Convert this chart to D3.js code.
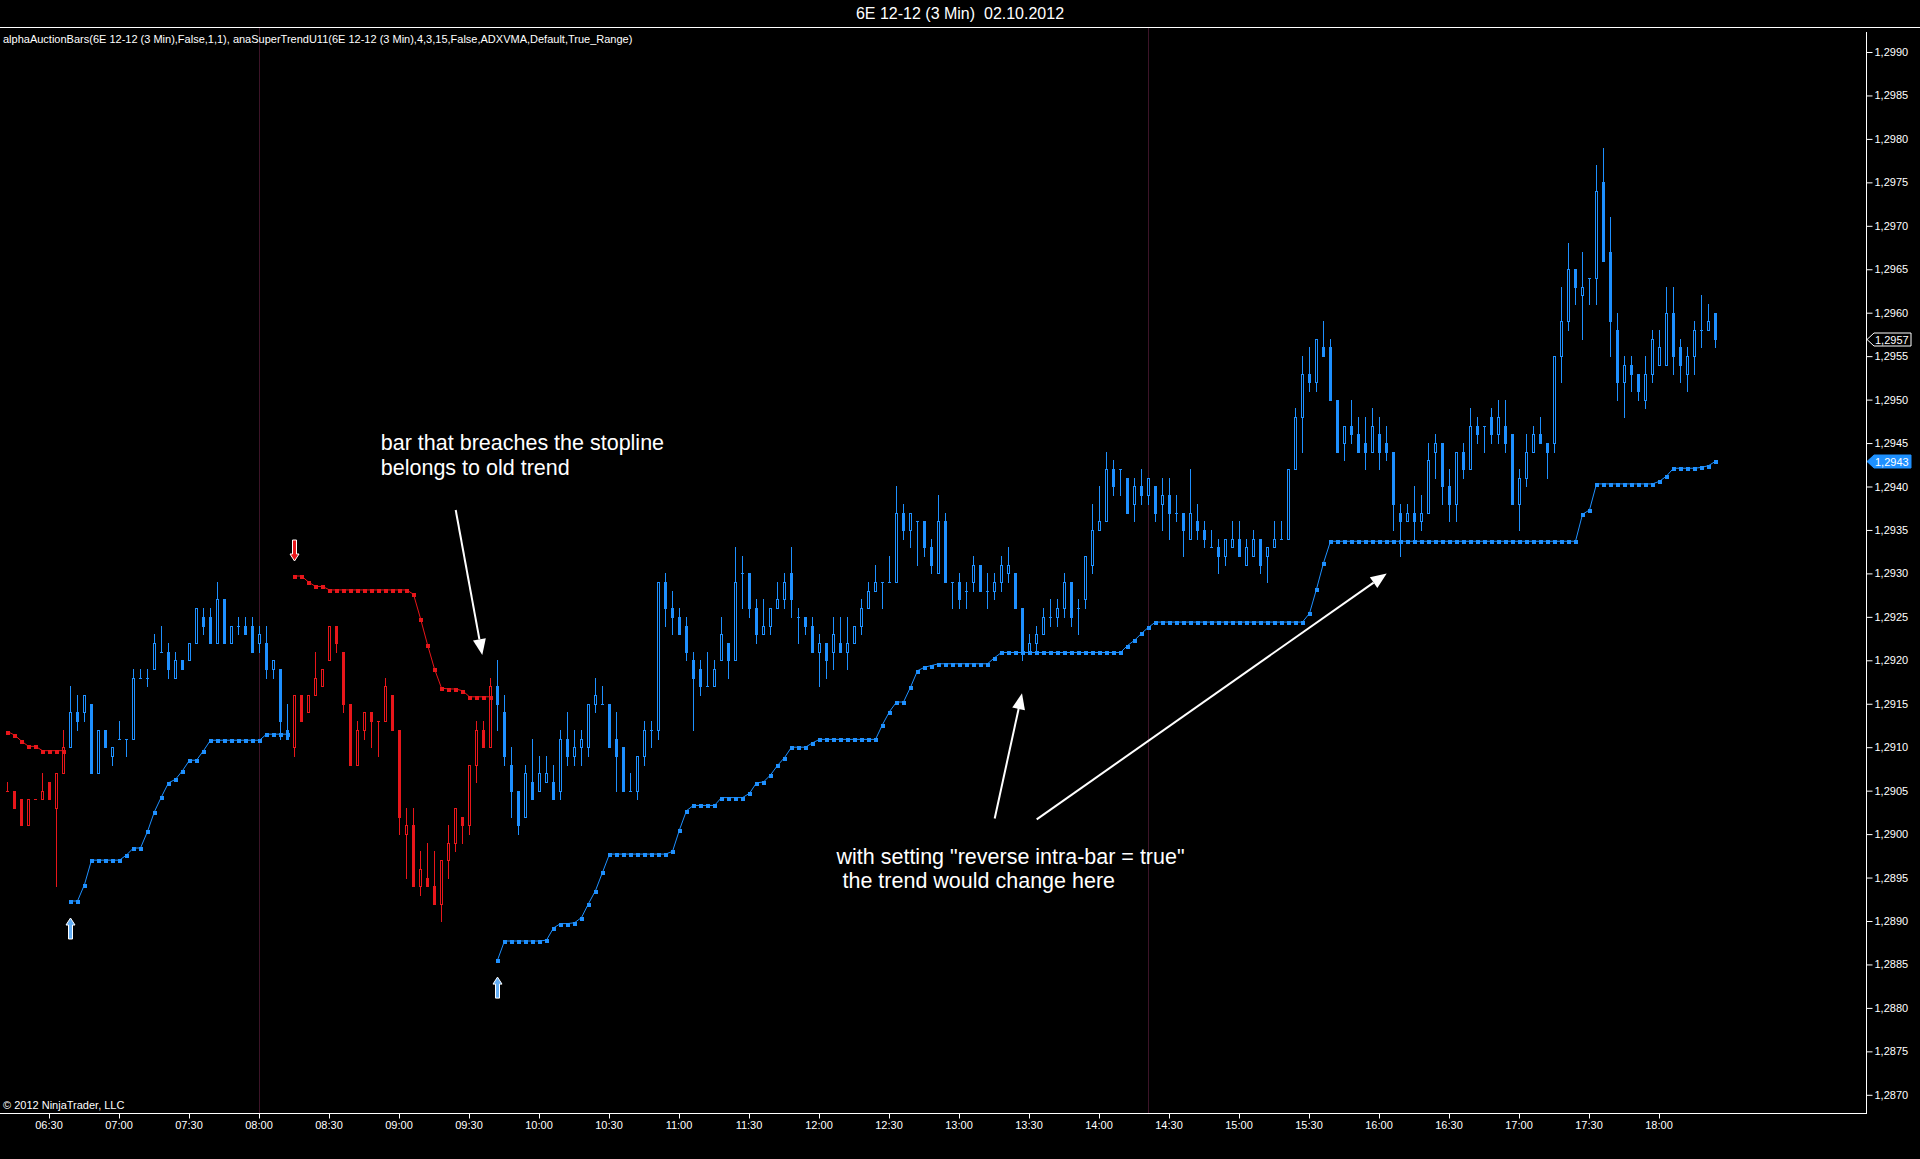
<!DOCTYPE html>
<meta charset="utf-8">
<style>
body { margin: 0; background: #000; }
svg { display: block; background: #000; }
text { font-family: "Liberation Sans", Arial, sans-serif; fill: #fff; white-space: pre; }
.axis text { font-size: 11px; fill: #fff; }
.axis line { stroke: #fff; }
.axis path { display: none; }
</style>
<svg width="1920" height="1159"></svg>
<script src="https://cdn.jsdelivr.net/npm/d3@7"></script>
<script>
var chartTitle = "6E 12-12 (3 Min)  02.10.2012";
var indicatorLabel = "alphaAuctionBars(6E 12-12 (3 Min),False,1,1), anaSuperTrendU11(6E 12-12 (3 Min),4,3,15,False,ADXVMA,Default,True_Range)";
var copyright = "\u00a9 2012 NinjaTrader, LLC";

var firstBar = "06:12";
var barMinutes = 3;

var openP = [
1.2905,1.2905,1.2904,1.2901,1.2904,1.2904,1.2906,1.2903,1.2907,1.2910,
1.2914,1.2914,1.2915,1.2907,1.2912,1.2909,1.2911,1.2911,1.2911,1.2918,
1.2918,1.2919,1.2921,1.2921,1.2918,1.2920,1.2920,1.2922,1.2925,1.2925,
1.2922,1.2927,1.2922,1.2924,1.2924,1.2924,1.2922,1.2922,1.2919,1.2919,
1.2912,1.2910,1.2916,1.2914,1.2916,1.2917,1.2920,1.2924,1.2921,1.2915,
1.2908,1.2912,1.2914,1.2913,1.2913,1.2916,1.2912,1.2900,1.2901,1.2894,
1.2895,1.2894,1.2892,1.2897,1.2899,1.2902,1.2901,1.2908,1.2912,1.2910,
1.2917,1.2914,1.2908,1.2905,1.2902,1.2906,1.2905,1.2906,1.2906,1.2905,
1.2911,1.2909,1.2910,1.2910,1.2915,1.2915,1.2915,1.2911,1.2910,1.2905,
1.2905,1.2909,1.2912,1.2912,1.2929,1.2926,1.2925,1.2924,1.2920,1.2919,
1.2917,1.2917,1.2920,1.2922,1.2920,1.2930,1.2930,1.2926,1.2923,1.2924,
1.2926,1.2927,1.2930,1.2925,1.2925,1.2924,1.2921,1.2922,1.2921,1.2922,
1.2921,1.2922,1.2924,1.2926,1.2928,1.2929,1.2929,1.2929,1.2937,1.2935,
1.2936,1.2936,1.2933,1.2930,1.2936,1.2929,1.2929,1.2928,1.2929,1.2931,
1.2928,1.2928,1.2929,1.2930,1.2930,1.2926,1.2921,1.2922,1.2923,1.2925,
1.2925,1.2926,1.2929,1.2926,1.2927,1.2931,1.2935,1.2936,1.2942,1.2942,
1.2941,1.2938,1.2940,1.2939,1.2940,1.2938,1.2939,1.2937,1.2937,1.2934,
1.2936,1.2935,1.2933,1.2933,1.2932,1.2933,1.2934,1.2931,1.2932,1.2934,
1.2932,1.2933,1.2934,1.2934,1.2942,1.2948,1.2953,1.2952,1.2956,1.2956,
1.2950,1.2945,1.2947,1.2946,1.2945,1.2944,1.2946,1.2945,1.2944,1.2937,
1.2936,1.2937,1.2936,1.2937,1.2944,1.2945,1.2940,1.2938,1.2944,1.2942,
1.2947,1.2947,1.2948,1.2946,1.2947,1.2946,1.2938,1.2941,1.2944,1.2946,
1.2945,1.2945,1.2955,1.2959,1.2965,1.2962,1.2964,1.2964,1.2975,1.2967,
1.2958,1.2952,1.2954,1.2953,1.2950,1.2953,1.2954,1.2954,1.2960,1.2956,
1.2953,1.2955,1.2958,1.2958,1.2960];

var highP = [
1.2906,1.2905,1.2904,1.2904,1.2904,1.2907,1.2906,1.2907,1.2912,1.2917,
1.2916,1.2916,1.2915,1.2912,1.2912,1.2910,1.2913,1.2911,1.2919,1.2919,
1.2919,1.2923,1.2924,1.2922,1.2921,1.2920,1.2922,1.2926,1.2926,1.2926,
1.2929,1.2927,1.2924,1.2925,1.2925,1.2925,1.2924,1.2924,1.2920,1.2919,
1.2915,1.2916,1.2916,1.2916,1.2921,1.2919,1.2924,1.2924,1.2921,1.2915,
1.2913,1.2914,1.2914,1.2913,1.2918,1.2916,1.2912,1.2903,1.2903,1.2898,
1.2899,1.2898,1.2897,1.2901,1.2903,1.2902,1.2908,1.2913,1.2913,1.2918,
1.2920,1.2916,1.2910,1.2905,1.2908,1.2911,1.2909,1.2909,1.2908,1.2912,
1.2914,1.2912,1.2912,1.2915,1.2918,1.2917,1.2915,1.2914,1.2910,1.2907,
1.2909,1.2913,1.2913,1.2929,1.2930,1.2928,1.2926,1.2925,1.2921,1.2920,
1.2921,1.2920,1.2925,1.2922,1.2933,1.2932,1.2930,1.2927,1.2927,1.2926,
1.2929,1.2930,1.2933,1.2926,1.2925,1.2925,1.2923,1.2922,1.2925,1.2925,
1.2925,1.2924,1.2927,1.2929,1.2931,1.2929,1.2932,1.2940,1.2938,1.2937,
1.2936,1.2936,1.2934,1.2939,1.2937,1.2929,1.2930,1.2929,1.2932,1.2931,
1.2930,1.2930,1.2932,1.2933,1.2930,1.2926,1.2923,1.2924,1.2926,1.2927,
1.2927,1.2930,1.2929,1.2927,1.2932,1.2938,1.2940,1.2944,1.2943,1.2942,
1.2941,1.2941,1.2942,1.2941,1.2940,1.2941,1.2941,1.2939,1.2937,1.2942,
1.2938,1.2936,1.2935,1.2934,1.2934,1.2936,1.2936,1.2934,1.2935,1.2934,
1.2933,1.2936,1.2936,1.2942,1.2949,1.2955,1.2956,1.2957,1.2959,1.2957,
1.2950,1.2947,1.2950,1.2948,1.2948,1.2949,1.2948,1.2947,1.2944,1.2938,
1.2938,1.2940,1.2939,1.2945,1.2946,1.2945,1.2942,1.2944,1.2945,1.2949,
1.2948,1.2947,1.2949,1.2950,1.2950,1.2946,1.2942,1.2946,1.2947,1.2948,
1.2945,1.2955,1.2963,1.2968,1.2965,1.2967,1.2964,1.2977,1.2979,1.2971,
1.2960,1.2955,1.2955,1.2953,1.2955,1.2958,1.2958,1.2963,1.2963,1.2957,
1.2956,1.2959,1.2962,1.2961,1.2960];

var lowP = [
1.2905,1.2903,1.2901,1.2901,1.2904,1.2904,1.2904,1.2894,1.2907,1.2910,
1.2912,1.2913,1.2907,1.2907,1.2910,1.2908,1.2911,1.2909,1.2911,1.2918,
1.2917,1.2919,1.2921,1.2918,1.2918,1.2919,1.2920,1.2922,1.2923,1.2922,
1.2922,1.2922,1.2922,1.2923,1.2923,1.2921,1.2921,1.2918,1.2918,1.2911,
1.2911,1.2909,1.2913,1.2914,1.2916,1.2917,1.2920,1.2921,1.2914,1.2908,
1.2908,1.2911,1.2910,1.2909,1.2913,1.2912,1.2900,1.2895,1.2894,1.2893,
1.2894,1.2892,1.2890,1.2895,1.2898,1.2899,1.2900,1.2906,1.2910,1.2910,
1.2912,1.2908,1.2902,1.2900,1.2902,1.2904,1.2905,1.2906,1.2904,1.2904,
1.2908,1.2908,1.2908,1.2909,1.2914,1.2915,1.2910,1.2905,1.2905,1.2905,
1.2904,1.2908,1.2910,1.2911,1.2924,1.2923,1.2923,1.2920,1.2912,1.2916,
1.2917,1.2917,1.2920,1.2918,1.2920,1.2926,1.2925,1.2922,1.2923,1.2923,
1.2926,1.2926,1.2925,1.2922,1.2923,1.2921,1.2917,1.2918,1.2919,1.2921,
1.2919,1.2922,1.2923,1.2926,1.2928,1.2926,1.2929,1.2929,1.2934,1.2933,
1.2931,1.2932,1.2930,1.2930,1.2929,1.2926,1.2926,1.2926,1.2928,1.2928,
1.2926,1.2927,1.2928,1.2929,1.2926,1.2920,1.2921,1.2921,1.2923,1.2924,
1.2924,1.2925,1.2924,1.2923,1.2926,1.2930,1.2935,1.2936,1.2939,1.2939,
1.2937,1.2936,1.2938,1.2938,1.2936,1.2935,1.2934,1.2936,1.2932,1.2934,
1.2934,1.2933,1.2933,1.2930,1.2931,1.2933,1.2932,1.2931,1.2932,1.2930,
1.2929,1.2933,1.2934,1.2934,1.2942,1.2944,1.2951,1.2951,1.2955,1.2950,
1.2944,1.2943,1.2945,1.2944,1.2942,1.2944,1.2942,1.2943,1.2935,1.2932,
1.2936,1.2934,1.2935,1.2937,1.2941,1.2938,1.2936,1.2936,1.2941,1.2942,
1.2945,1.2944,1.2945,1.2945,1.2944,1.2938,1.2935,1.2940,1.2944,1.2945,
1.2941,1.2944,1.2952,1.2958,1.2961,1.2957,1.2961,1.2961,1.2966,1.2955,
1.2950,1.2948,1.2951,1.2950,1.2949,1.2952,1.2954,1.2954,1.2953,1.2952,
1.2951,1.2953,1.2956,1.2958,1.2956];

var closeP = [
1.2905,1.2903,1.2901,1.2904,1.2904,1.2905,1.2904,1.2907,1.2910,1.2914,
1.2913,1.2916,1.2907,1.2912,1.2910,1.2910,1.2911,1.2911,1.2918,1.2918,
1.2918,1.2922,1.2921,1.2919,1.2920,1.2919,1.2922,1.2926,1.2924,1.2922,
1.2927,1.2922,1.2924,1.2924,1.2923,1.2921,1.2923,1.2919,1.2920,1.2913,
1.2911,1.2916,1.2913,1.2916,1.2918,1.2919,1.2924,1.2922,1.2915,1.2908,
1.2912,1.2914,1.2913,1.2913,1.2917,1.2912,1.2902,1.2901,1.2894,1.2896,
1.2894,1.2892,1.2897,1.2899,1.2903,1.2901,1.2908,1.2912,1.2910,1.2917,
1.2915,1.2909,1.2905,1.2901,1.2907,1.2904,1.2907,1.2907,1.2904,1.2911,
1.2909,1.2910,1.2911,1.2915,1.2916,1.2915,1.2910,1.2909,1.2905,1.2905,
1.2909,1.2912,1.2912,1.2929,1.2926,1.2925,1.2923,1.2921,1.2918,1.2917,
1.2917,1.2919,1.2923,1.2920,1.2929,1.2930,1.2926,1.2923,1.2924,1.2926,
1.2927,1.2929,1.2927,1.2925,1.2924,1.2921,1.2922,1.2920,1.2923,1.2921,
1.2922,1.2924,1.2926,1.2928,1.2929,1.2929,1.2929,1.2937,1.2935,1.2937,
1.2936,1.2933,1.2931,1.2936,1.2929,1.2929,1.2927,1.2928,1.2931,1.2928,
1.2928,1.2929,1.2931,1.2931,1.2926,1.2921,1.2922,1.2923,1.2925,1.2925,
1.2926,1.2929,1.2925,1.2926,1.2932,1.2935,1.2936,1.2942,1.2940,1.2942,
1.2937,1.2940,1.2939,1.2941,1.2937,1.2939,1.2937,1.2937,1.2935,1.2937,
1.2935,1.2934,1.2933,1.2932,1.2934,1.2934,1.2932,1.2933,1.2934,1.2931,
1.2933,1.2934,1.2934,1.2942,1.2948,1.2953,1.2952,1.2957,1.2955,1.2950,
1.2944,1.2947,1.2946,1.2944,1.2944,1.2947,1.2944,1.2944,1.2938,1.2936,
1.2937,1.2936,1.2937,1.2943,1.2945,1.2940,1.2938,1.2944,1.2942,1.2947,
1.2946,1.2947,1.2946,1.2948,1.2945,1.2938,1.2941,1.2944,1.2946,1.2945,
1.2944,1.2955,1.2959,1.2965,1.2963,1.2963,1.2964,1.2974,1.2966,1.2959,
1.2952,1.2954,1.2953,1.2951,1.2953,1.2957,1.2956,1.2960,1.2955,1.2954,
1.2955,1.2958,1.2958,1.2959,1.2957];

// SuperTrend stop line, one value per bar
var stopLine = [
1.29118,1.29114,1.29107,1.29101,1.29101,1.29096,1.29096,1.29096,1.29096,1.28923,
1.28923,1.28942,1.28970,1.28970,1.28970,1.28970,1.28970,1.28976,1.28984,1.28984,
1.29003,1.29026,1.29043,1.29059,1.29063,1.29073,1.29085,1.29085,1.29096,1.29108,
1.29108,1.29108,1.29108,1.29108,1.29108,1.29108,1.29108,1.29115,1.29115,1.29115,
1.29115,1.29297,1.29297,1.29290,1.29285,1.29285,1.29281,1.29281,1.29281,1.29281,
1.29281,1.29281,1.29281,1.29281,1.29281,1.29281,1.29281,1.29281,1.29276,1.29248,
1.29218,1.29190,1.29168,1.29167,1.29167,1.29165,1.29158,1.29158,1.29158,1.29158,
1.28855,1.28877,1.28877,1.28877,1.28877,1.28877,1.28877,1.28878,1.28892,1.28897,
1.28897,1.28898,1.28904,1.28920,1.28935,1.28956,1.28977,1.28977,1.28977,1.28977,
1.28977,1.28977,1.28977,1.28977,1.28977,1.28980,1.29005,1.29027,1.29033,1.29033,
1.29033,1.29033,1.29042,1.29042,1.29042,1.29042,1.29047,1.29059,1.29060,1.29068,
1.29079,1.29088,1.29100,1.29100,1.29100,1.29105,1.29109,1.29109,1.29109,1.29109,
1.29109,1.29109,1.29109,1.29109,1.29109,1.29126,1.29141,1.29152,1.29152,1.29169,
1.29188,1.29192,1.29194,1.29196,1.29196,1.29196,1.29196,1.29196,1.29196,1.29196,
1.29196,1.29203,1.29209,1.29209,1.29209,1.29209,1.29209,1.29209,1.29209,1.29209,
1.29209,1.29209,1.29209,1.29209,1.29209,1.29209,1.29209,1.29209,1.29209,1.29209,
1.29217,1.29223,1.29231,1.29238,1.29244,1.29244,1.29244,1.29244,1.29244,1.29244,
1.29244,1.29244,1.29244,1.29244,1.29244,1.29244,1.29244,1.29244,1.29244,1.29244,
1.29244,1.29244,1.29244,1.29244,1.29244,1.29244,1.29254,1.29282,1.29312,1.29337,
1.29337,1.29337,1.29337,1.29337,1.29337,1.29337,1.29337,1.29337,1.29337,1.29337,
1.29337,1.29337,1.29337,1.29337,1.29337,1.29337,1.29337,1.29337,1.29337,1.29337,
1.29337,1.29337,1.29337,1.29337,1.29337,1.29337,1.29337,1.29337,1.29337,1.29337,
1.29337,1.29337,1.29337,1.29337,1.29337,1.29368,1.29373,1.29403,1.29403,1.29403,
1.29403,1.29403,1.29403,1.29403,1.29403,1.29403,1.29406,1.29412,1.29421,1.29421,
1.29421,1.29421,1.29422,1.29424,1.29429];

// bars (first, last) while the trend is down
var downTrend = [["06:12", "06:36"], ["08:15", "09:39"]];
var sessionBreaks = ["08:00", "14:21"];

var timeLabels = ["06:30","07:00","07:30","08:00","08:30","09:00","09:30","10:00","10:30","11:00",
  "11:30","12:00","12:30","13:00","13:30","14:00","14:30","15:00","15:30","16:00","16:30","17:00","17:30","18:00"];
var priceTicks = [1.2870,1.2875,1.2880,1.2885,1.2890,1.2895,1.2900,1.2905,1.2910,1.2915,1.2920,1.2925,
  1.2930,1.2935,1.2940,1.2945,1.2950,1.2955,1.2960,1.2965,1.2970,1.2975,1.2980,1.2985,1.2990];

// hand drawn notes, placed by bar number and price
var noteTexts = [
  {bar: 53.4, price: 1.29442, text: "bar that breaches the stopline"},
  {bar: 53.4, price: 1.29413, text: "belongs to old trend"},
  {bar: 118.5, price: 1.28966, text: "with setting \"reverse intra-bar = true\""},
  {bar: 118.5, price: 1.28938, text: " the trend would change here"}
];
var noteArrows = [
  {from: [64.1, 1.29373], to: [67.9, 1.29206]},
  {from: [141.1, 1.29018], to: [145.0, 1.29162]},
  {from: [147.1, 1.29017], to: [197.1, 1.29300]}
];

var upColor = "#1e90ff", downColor = "#e8161a", sessionColor = "#3c1428";

var svg = d3.select("svg");
var plotTop = 27, plotBottom = 1113, axisX = 1866;

var parseHM = d3.timeParse("%H:%M"), fmtHM = d3.timeFormat("%H:%M");
var times = openP.map(function(d, i) {
  return fmtHM(d3.timeMinute.offset(parseHM(firstBar), i * barMinutes));
});

var x = d3.scaleBand().domain(times).range([3.5, 3.5 + 7 * times.length]);
var cx = function(i) { return x(times[i]) + x.bandwidth() / 2; };
var xi = d3.scaleLinear().domain([0, times.length - 1]).range([cx(0), cx(times.length - 1)]);
var y = d3.scaleLinear().domain([1.2870, 1.2990]).range([1094.8, 52]);

var downRanges = downTrend.map(function(r) { return [times.indexOf(r[0]), times.indexOf(r[1])]; });
function isDown(i) {
  return downRanges.some(function(r) { return i >= r[0] && i <= r[1]; });
}

var bars = times.map(function(t, i) {
  return {i: i, t: t, o: openP[i], h: highP[i], l: lowP[i], c: closeP[i], s: stopLine[i], down: isDown(i)};
});

// frame
svg.append("rect").attr("width", 1920).attr("height", 1159).attr("fill", "#000");
svg.append("text").attr("x", 960).attr("y", 19).attr("text-anchor", "middle")
  .style("font-size", "16px").text(chartTitle);
svg.append("line").attr("x1", 0).attr("x2", 1920).attr("y1", plotTop + 0.5).attr("y2", plotTop + 0.5)
  .attr("stroke", "#fff");

// session breaks
svg.selectAll(".session").data(sessionBreaks).enter().append("line")
  .attr("class", "session")
  .attr("x1", function(d) { return x(d) + x.bandwidth() / 2 + 0.5; })
  .attr("x2", function(d) { return x(d) + x.bandwidth() / 2 + 0.5; })
  .attr("y1", plotTop + 1).attr("y2", plotBottom)
  .attr("stroke", sessionColor);

svg.append("text").attr("x", 3).attr("y", 43).style("font-size", "11px").text(indicatorLabel);

// candles
var candles = svg.append("g").attr("shape-rendering", "crispEdges");
var cg = candles.selectAll("g").data(bars).enter().append("g");

cg.append("line")
  .attr("x1", function(d) { return Math.round(cx(d.i)) + 0.5; })
  .attr("x2", function(d) { return Math.round(cx(d.i)) + 0.5; })
  .attr("y1", function(d) { return Math.round(y(Math.max(d.h, d.o, d.c))); })
  .attr("y2", function(d) { return Math.round(y(Math.min(d.l, d.o, d.c))) + 1; })
  .attr("stroke", function(d) { return d.down ? downColor : upColor; });

cg.each(function(d) {
  var g = d3.select(this), col = d.down ? downColor : upColor;
  var px = Math.round(cx(d.i));
  var top = Math.round(y(Math.max(d.o, d.c))), bot = Math.round(y(Math.min(d.o, d.c)));
  if (d.o === d.c) {
    g.append("line").attr("x1", px - 1).attr("x2", px + 2)
      .attr("y1", top + 0.5).attr("y2", top + 0.5).attr("stroke", col);
  } else if (d.c > d.o) {
    g.append("rect").attr("x", px - 0.5).attr("y", top + 0.5)
      .attr("width", 2).attr("height", bot - top)
      .attr("fill", "#000").attr("stroke", col);
  } else {
    g.append("rect").attr("x", px - 1).attr("y", top)
      .attr("width", 3).attr("height", bot - top + 1)
      .attr("fill", col);
  }
});

// stop line
var stops = svg.append("g");
[true, false].forEach(function(down) {
  var line = d3.line()
    .defined(function(d) { return d.down === down; })
    .x(function(d) { return cx(d.i) + 0.5; })
    .y(function(d) { return y(d.s); });
  stops.append("path").datum(bars).attr("d", line)
    .attr("fill", "none").attr("stroke", down ? downColor : upColor).attr("stroke-width", 1);
});
stops.selectAll("rect").data(bars).enter().append("rect")
  .attr("x", function(d) { return Math.round(cx(d.i)) - 1.5; })
  .attr("y", function(d) { return Math.round(y(d.s)) - 1.5; })
  .attr("width", 4).attr("height", 4)
  .attr("shape-rendering", "crispEdges")
  .attr("fill", function(d) { return d.down ? downColor : upColor; });

// trend change arrows
var flips = bars.filter(function(d, i) { return i > 0 && d.down !== bars[i - 1].down; });
var arrowShape = "M0,0L4.5,7L2,7L2,21L-2,21L-2,7L-4.5,7Z";
svg.selectAll(".flip").data(flips).enter().append("path")
  .attr("class", "flip")
  .attr("d", arrowShape)
  .attr("transform", function(d) {
    var px = Math.round(cx(d.i)) + 0.5;
    return d.down ? "translate(" + px + "," + (y(d.s) - 15) + ") scale(1,-1)"
                  : "translate(" + px + "," + (y(d.s) + 17) + ")";
  })
  .attr("fill", function(d) { return d.down ? downColor : "#63aef5"; })
  .attr("stroke", "#fff").attr("stroke-width", 1);

// axes
var yAxis = d3.axisRight(y).tickValues(priceTicks).tickSize(6).tickPadding(2)
  .tickFormat(function(d) { return d3.format(".4f")(d).replace(".", ","); });
svg.append("g").attr("class", "axis").attr("transform", "translate(" + (axisX + 0.5) + ",0)").call(yAxis);
svg.append("line").attr("x1", axisX + 0.5).attr("x2", axisX + 0.5).attr("y1", 32).attr("y2", plotBottom + 1)
  .attr("stroke", "#fff");

var xAxis = d3.axisBottom(x).tickValues(timeLabels).tickSize(5).tickPadding(3);
svg.append("g").attr("class", "axis").attr("transform", "translate(0," + (plotBottom + 0.5) + ")").call(xAxis)
  .selectAll(".tick line").attr("transform", "translate(0.5,0)");
svg.append("line").attr("x1", 0).attr("x2", axisX + 1).attr("y1", plotBottom + 0.5).attr("y2", plotBottom + 0.5)
  .attr("stroke", "#fff");

svg.append("text").attr("x", 3).attr("y", 1109).style("font-size", "11px").text(copyright);

// price markers on the axis
function priceTag(value, fill, stroke) {
  var py = Math.round(y(value)) + 0.5;
  var g = svg.append("g");
  g.append("path")
    .attr("d", "M" + (axisX + 1) + "," + py + "L" + (axisX + 8) + "," + (py - 6.5) + "L1911," + (py - 6.5) +
      "L1911," + (py + 6.5) + "L" + (axisX + 8) + "," + (py + 6.5) + "Z")
    .attr("fill", fill).attr("stroke", stroke);
  g.append("text").attr("x", axisX + 9).attr("y", py + 4).style("font-size", "11px")
    .text(d3.format(".4f")(value).replace(".", ","));
}
priceTag(closeP[closeP.length - 1], "#000", "#fff");
priceTag(stopLine[stopLine.length - 1], upColor, upColor);

// notes
svg.selectAll(".note").data(noteTexts).enter().append("text")
  .attr("class", "note")
  .attr("x", function(d) { return xi(d.bar); })
  .attr("y", function(d) { return y(d.price); })
  .style("font-size", "21.5px")
  .text(function(d) { return d.text; });

noteArrows.forEach(function(a) {
  var x1 = xi(a.from[0]), y1 = y(a.from[1]), x2 = xi(a.to[0]), y2 = y(a.to[1]);
  var ang = Math.atan2(y2 - y1, x2 - x1), len = 16, half = 6.5;
  var bx = x2 - len * Math.cos(ang), by = y2 - len * Math.sin(ang);
  svg.append("line").attr("x1", x1).attr("y1", y1).attr("x2", bx).attr("y2", by)
    .attr("stroke", "#fff").attr("stroke-width", 2);
  svg.append("path")
    .attr("d", "M" + x2 + "," + y2 +
      "L" + (bx + half * Math.sin(ang)) + "," + (by - half * Math.cos(ang)) +
      "L" + (bx - half * Math.sin(ang)) + "," + (by + half * Math.cos(ang)) + "Z")
    .attr("fill", "#fff");
});
</script>
